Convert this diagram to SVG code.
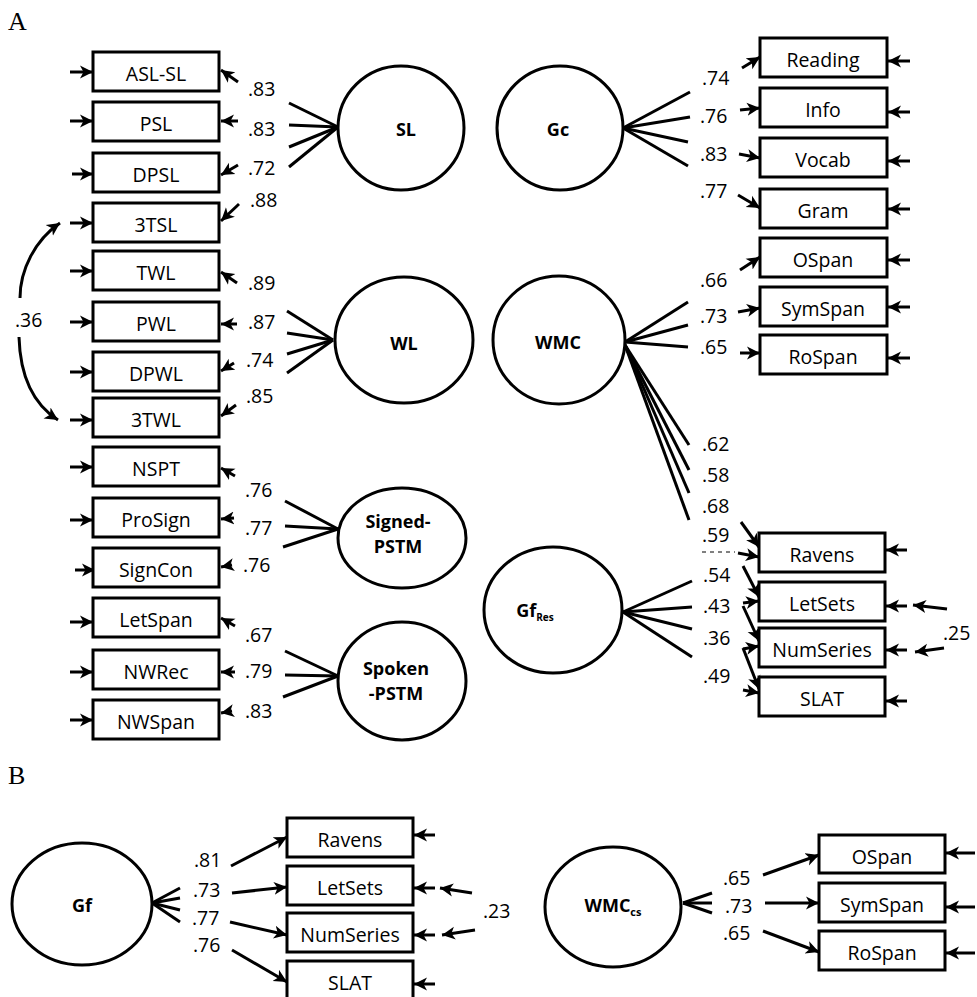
<svg xmlns="http://www.w3.org/2000/svg" width="977" height="997" viewBox="0 0 977 997">
<style>
.box{fill:#fff;stroke:#000;stroke-width:3}
.lat{fill:#fff;stroke:#000;stroke-width:3}
.ln{stroke:#000;stroke-width:3;fill:none}
.ar{stroke:#000;stroke-width:3;fill:none;marker-end:url(#ah)}
.t{font-family:"Open Sans",sans-serif;font-size:19.5px;text-anchor:middle;fill:#000}
.n{font-family:"Open Sans",sans-serif;font-size:19.5px;fill:#000}
.lt{font-family:"Open Sans",sans-serif;font-weight:bold;font-size:18px;text-anchor:middle;fill:#000}
.big{font-family:"Liberation Serif",serif;font-size:26px;fill:#000}
.dash{stroke:#000;stroke-width:1;stroke-dasharray:4 4}
</style>
<defs>
<marker id="ah" markerUnits="userSpaceOnUse" markerWidth="16" markerHeight="16" refX="13" refY="7" orient="auto"><path d="M0,0.5 L13,7 L0,13.5 L3.5,7 z" fill="#000"/></marker>
</defs>
<rect width="977" height="997" fill="#fff"/>
<text class="big" x="8" y="30">A</text>
<text class="big" x="8" y="784">B</text>

<g id="connectors">
<!-- left error arrows -->
<line class="ar" x1="70" y1="72" x2="93" y2="72"/>
<line class="ar" x1="70" y1="121" x2="93" y2="121"/>
<line class="ar" x1="72" y1="174" x2="93" y2="174"/>
<line class="ar" x1="70" y1="223" x2="93" y2="223"/>
<line class="ar" x1="70" y1="271" x2="93" y2="271"/>
<line class="ar" x1="70" y1="322" x2="93" y2="322"/>
<line class="ar" x1="70" y1="372" x2="93" y2="372"/>
<line class="ar" x1="70" y1="420" x2="93" y2="420"/>
<line class="ar" x1="70" y1="467" x2="93" y2="467"/>
<line class="ar" x1="70" y1="520" x2="93" y2="520"/>
<line class="ar" x1="75" y1="570" x2="95" y2="570"/>
<line class="ar" x1="70" y1="622" x2="93" y2="622"/>
<line class="ar" x1="70" y1="672" x2="93" y2="672"/>
<line class="ar" x1="70" y1="720" x2="93" y2="720"/>
<!-- correlation .36 -->
<path class="ar" d="M20 298 C20 270 35 240 60 223"/>
<path class="ar" d="M19 337 C20 372 30 402 58 420"/>
<!-- SL loadings -->
<line class="ln" x1="338" y1="127" x2="289" y2="103"/>
<line class="ln" x1="338" y1="127" x2="289" y2="125"/>
<line class="ln" x1="338" y1="127" x2="289" y2="147"/>
<line class="ln" x1="338" y1="127" x2="289" y2="167"/>
<line class="ar" x1="238" y1="82" x2="221" y2="70"/>
<line class="ar" x1="238" y1="121" x2="221" y2="121"/>
<line class="ar" x1="238" y1="165" x2="221" y2="175"/>
<line class="ar" x1="239" y1="204" x2="221" y2="221"/>
<!-- WL loadings -->
<line class="ln" x1="333" y1="340" x2="287" y2="311"/>
<line class="ln" x1="333" y1="340" x2="287" y2="333"/>
<line class="ln" x1="333" y1="340" x2="287" y2="354"/>
<line class="ln" x1="333" y1="340" x2="287" y2="373"/>
<line class="ar" x1="237" y1="283" x2="221" y2="272"/>
<line class="ar" x1="237" y1="324" x2="221" y2="324"/>
<line class="ar" x1="234" y1="363" x2="221" y2="371"/>
<line class="ar" x1="236" y1="405" x2="221" y2="416"/>
<!-- Signed-PSTM loadings -->
<line class="ln" x1="338" y1="529" x2="285" y2="501"/>
<line class="ln" x1="338" y1="529" x2="285" y2="526"/>
<line class="ln" x1="338" y1="529" x2="283" y2="547"/>
<line class="ar" x1="235" y1="476" x2="221" y2="468"/>
<line class="ar" x1="234" y1="518" x2="221" y2="519"/>
<line class="ar" x1="232" y1="565" x2="221" y2="567"/>
<!-- Spoken-PSTM loadings -->
<line class="ln" x1="338" y1="676" x2="285" y2="651"/>
<line class="ln" x1="338" y1="676" x2="285" y2="675"/>
<line class="ln" x1="338" y1="676" x2="283" y2="697"/>
<line class="ar" x1="235" y1="626" x2="221" y2="618"/>
<line class="ar" x1="235" y1="672" x2="221" y2="672"/>
<line class="ar" x1="232" y1="711" x2="221" y2="713"/>
<!-- Gc loadings -->
<line class="ln" x1="623" y1="128" x2="690" y2="92"/>
<line class="ln" x1="623" y1="128" x2="690" y2="117"/>
<line class="ln" x1="623" y1="128" x2="688" y2="142"/>
<line class="ln" x1="623" y1="128" x2="688" y2="166"/>
<line class="ar" x1="742" y1="68" x2="760" y2="57"/>
<line class="ar" x1="740" y1="110" x2="760" y2="108"/>
<line class="ar" x1="739" y1="154" x2="760" y2="158"/>
<line class="ar" x1="738" y1="195" x2="760" y2="208"/>
<!-- WMC loadings -->
<line class="ln" x1="625" y1="342" x2="688" y2="302"/>
<line class="ln" x1="625" y1="342" x2="688" y2="325"/>
<line class="ln" x1="625" y1="342" x2="688" y2="347"/>
<line class="ar" x1="740" y1="270" x2="760" y2="257"/>
<line class="ar" x1="738" y1="312" x2="760" y2="308"/>
<line class="ar" x1="740" y1="353" x2="760" y2="353"/>
<line class="ln" x1="625" y1="345" x2="689" y2="445"/>
<line class="ln" x1="625" y1="345" x2="689" y2="470"/>
<line class="ln" x1="625" y1="345" x2="689" y2="493"/>
<line class="ln" x1="625" y1="345" x2="689" y2="520"/>
<!-- GfRes loadings -->
<line class="ln" x1="623" y1="612" x2="692" y2="581"/>
<line class="ln" x1="623" y1="612" x2="692" y2="607"/>
<line class="ln" x1="623" y1="612" x2="692" y2="629"/>
<line class="ln" x1="623" y1="612" x2="692" y2="657"/>
<line class="dash" x1="702" y1="552" x2="735" y2="552"/>
<line class="ar" x1="741" y1="522" x2="759" y2="547"/>
<line class="ar" x1="738" y1="553" x2="759" y2="557"/>
<line class="ar" x1="743" y1="566" x2="759" y2="597"/>
<line class="ar" x1="743" y1="603" x2="759" y2="601"/>
<line class="ar" x1="743" y1="606" x2="759" y2="641"/>
<line class="ar" x1="743" y1="649" x2="759" y2="646"/>
<line class="ar" x1="743" y1="648" x2="759" y2="689"/>
<line class="ar" x1="743" y1="690" x2="759" y2="693"/>
<!-- right error arrows -->
<line class="ar" x1="910" y1="61" x2="888" y2="61"/>
<line class="ar" x1="910" y1="112" x2="888" y2="112"/>
<line class="ar" x1="910" y1="161" x2="888" y2="161"/>
<line class="ar" x1="910" y1="209" x2="888" y2="209"/>
<line class="ar" x1="910" y1="260" x2="888" y2="260"/>
<line class="ar" x1="910" y1="307" x2="888" y2="307"/>
<line class="ar" x1="910" y1="358" x2="888" y2="358"/>
<line class="ar" x1="907" y1="550" x2="886" y2="550"/>
<line class="ar" x1="907" y1="606" x2="886" y2="606"/>
<line class="ar" x1="907" y1="650" x2="886" y2="650"/>
<line class="ar" x1="907" y1="701" x2="886" y2="701"/>
<line class="ar" x1="947" y1="609" x2="913" y2="605"/>
<line class="ar" x1="944" y1="648" x2="915" y2="652"/>
<!-- B: Gf -->
<line class="ln" x1="152" y1="903" x2="180" y2="888"/>
<line class="ln" x1="152" y1="903" x2="180" y2="898"/>
<line class="ln" x1="152" y1="903" x2="180" y2="910"/>
<line class="ln" x1="152" y1="903" x2="180" y2="922"/>
<line class="ar" x1="231" y1="866" x2="287" y2="837"/>
<line class="ar" x1="232" y1="893" x2="287" y2="887"/>
<line class="ar" x1="230" y1="922" x2="287" y2="935"/>
<line class="ar" x1="232" y1="950" x2="287" y2="982"/>
<line class="ar" x1="435" y1="835" x2="414" y2="835"/>
<line class="ar" x1="435" y1="888" x2="414" y2="888"/>
<line class="ar" x1="435" y1="935" x2="414" y2="935"/>
<line class="ar" x1="435" y1="984" x2="414" y2="984"/>
<line class="ar" x1="472" y1="893" x2="440" y2="888"/>
<line class="ar" x1="475" y1="930" x2="442" y2="935"/>
<!-- B: WMCcs -->
<line class="ln" x1="683" y1="903" x2="712" y2="893"/>
<line class="ln" x1="683" y1="903" x2="712" y2="903"/>
<line class="ln" x1="683" y1="903" x2="712" y2="913"/>
<line class="ar" x1="763" y1="875" x2="819" y2="855"/>
<line class="ar" x1="765" y1="903" x2="819" y2="903"/>
<line class="ar" x1="763" y1="931" x2="819" y2="952"/>
<line class="ar" x1="975" y1="853" x2="946" y2="853"/>
<line class="ar" x1="975" y1="907" x2="946" y2="907"/>
<line class="ar" x1="975" y1="953" x2="946" y2="953"/>
</g>

<g id="loading-labels">
<text class="n" x="15" y="327">.36</text>
<text class="n" x="248" y="96">.83</text>
<text class="n" x="248" y="136">.83</text>
<text class="n" x="248" y="175">.72</text>
<text class="n" x="250" y="207">.88</text>
<text class="n" x="248" y="290">.89</text>
<text class="n" x="248" y="329">.87</text>
<text class="n" x="246" y="367">.74</text>
<text class="n" x="246" y="403">.85</text>
<text class="n" x="245" y="497">.76</text>
<text class="n" x="245" y="535">.77</text>
<text class="n" x="243" y="572">.76</text>
<text class="n" x="245" y="642">.67</text>
<text class="n" x="245" y="678">.79</text>
<text class="n" x="245" y="718">.83</text>
<text class="n" x="702" y="85">.74</text>
<text class="n" x="700" y="123">.76</text>
<text class="n" x="700" y="161">.83</text>
<text class="n" x="700" y="198">.77</text>
<text class="n" x="700" y="287">.66</text>
<text class="n" x="700" y="323">.73</text>
<text class="n" x="700" y="354">.65</text>
<text class="n" x="702" y="451">.62</text>
<text class="n" x="702" y="482">.58</text>
<text class="n" x="702" y="513">.68</text>
<text class="n" x="702" y="542">.59</text>
<text class="n" x="703" y="582">.54</text>
<text class="n" x="703" y="613">.43</text>
<text class="n" x="703" y="645">.36</text>
<text class="n" x="703" y="683">.49</text>
<text class="n" x="943" y="640">.25</text>
<text class="n" x="194" y="867">.81</text>
<text class="n" x="193" y="897">.73</text>
<text class="n" x="192" y="925">.77</text>
<text class="n" x="193" y="952">.76</text>
<text class="n" x="483" y="918">.23</text>
<text class="n" x="723" y="885">.65</text>
<text class="n" x="725" y="913">.73</text>
<text class="n" x="723" y="940">.65</text>
</g>

<!-- latent variables -->
<g id="SL"><ellipse class="lat" cx="401" cy="128" rx="63" ry="62"/><text class="lt" x="406" y="136">SL</text></g>
<g id="Gc"><ellipse class="lat" cx="560" cy="128" rx="63" ry="62"/><text class="lt" x="558" y="136">Gc</text></g>
<g id="WL"><ellipse class="lat" cx="404" cy="340" rx="69" ry="63"/><text class="lt" x="404" y="350">WL</text></g>
<g id="WMC"><ellipse class="lat" cx="559" cy="340" rx="66" ry="64"/><text class="lt" x="558" y="349">WMC</text></g>
<g id="SignedPSTM"><ellipse class="lat" cx="402" cy="538" rx="64" ry="50"/><text class="lt" x="398" y="528">Signed-</text><text class="lt" x="398" y="553">PSTM</text></g>
<g id="SpokenPSTM"><ellipse class="lat" cx="402" cy="681" rx="64" ry="59"/><text class="lt" x="396" y="675">Spoken</text><text class="lt" x="396" y="700">-PSTM</text></g>
<g id="GfRes"><ellipse class="lat" cx="553" cy="610" rx="69" ry="63"/><text class="lt" x="535" y="617">Gf<tspan font-size="10" dy="4">Res</tspan></text></g>
<g id="Gf"><ellipse class="lat" cx="82" cy="904" rx="70" ry="61"/><text class="lt" x="82" y="912" font-size="19">Gf</text></g>
<g id="WMCcs"><ellipse class="lat" cx="613" cy="907" rx="68" ry="60"/><text class="lt" x="613" y="912" font-size="19">WMC<tspan font-size="11" dy="4">cs</tspan></text></g>

<!-- left indicators -->
<g id="ASL-SL"><rect class="box" x="93" y="52" width="126" height="39"/><text class="t" x="156" y="81">ASL-SL</text></g>
<g id="PSL"><rect class="box" x="93" y="102" width="126" height="39"/><text class="t" x="156" y="131">PSL</text></g>
<g id="DPSL"><rect class="box" x="93" y="153" width="126" height="39"/><text class="t" x="156" y="182">DPSL</text></g>
<g id="3TSL"><rect class="box" x="93" y="203" width="126" height="39"/><text class="t" x="156" y="232">3TSL</text></g>
<g id="TWL"><rect class="box" x="93" y="251" width="126" height="39"/><text class="t" x="156" y="280">TWL</text></g>
<g id="PWL"><rect class="box" x="93" y="302" width="126" height="39"/><text class="t" x="156" y="331">PWL</text></g>
<g id="DPWL"><rect class="box" x="93" y="352" width="126" height="39"/><text class="t" x="156" y="381">DPWL</text></g>
<g id="3TWL"><rect class="box" x="93" y="398" width="126" height="39"/><text class="t" x="156" y="427">3TWL</text></g>
<g id="NSPT"><rect class="box" x="93" y="447" width="126" height="39"/><text class="t" x="156" y="476">NSPT</text></g>
<g id="ProSign"><rect class="box" x="93" y="498" width="126" height="39"/><text class="t" x="156" y="527">ProSign</text></g>
<g id="SignCon"><rect class="box" x="93" y="548" width="126" height="39"/><text class="t" x="156" y="577">SignCon</text></g>
<g id="LetSpan"><rect class="box" x="93" y="598" width="126" height="39"/><text class="t" x="156" y="627">LetSpan</text></g>
<g id="NWRec"><rect class="box" x="93" y="650" width="126" height="39"/><text class="t" x="156" y="679">NWRec</text></g>
<g id="NWSpan"><rect class="box" x="93" y="700" width="126" height="39"/><text class="t" x="156" y="729">NWSpan</text></g>

<!-- right indicators -->
<g id="Reading"><rect class="box" x="760" y="38" width="127" height="39"/><text class="t" x="823" y="67">Reading</text></g>
<g id="Info"><rect class="box" x="760" y="88" width="127" height="39"/><text class="t" x="823" y="117">Info</text></g>
<g id="Vocab"><rect class="box" x="760" y="138" width="127" height="39"/><text class="t" x="823" y="167">Vocab</text></g>
<g id="Gram"><rect class="box" x="760" y="189" width="127" height="39"/><text class="t" x="823" y="218">Gram</text></g>
<g id="OSpan"><rect class="box" x="760" y="238" width="127" height="39"/><text class="t" x="823" y="267">OSpan</text></g>
<g id="SymSpan"><rect class="box" x="760" y="287" width="127" height="39"/><text class="t" x="823" y="316">SymSpan</text></g>
<g id="RoSpan"><rect class="box" x="760" y="335" width="127" height="39"/><text class="t" x="823" y="364">RoSpan</text></g>
<g id="Ravens"><rect class="box" x="759" y="533" width="126" height="39"/><text class="t" x="822" y="562">Ravens</text></g>
<g id="LetSets"><rect class="box" x="759" y="582" width="126" height="39"/><text class="t" x="822" y="611">LetSets</text></g>
<g id="NumSeries"><rect class="box" x="759" y="628" width="126" height="39"/><text class="t" x="822" y="657">NumSeries</text></g>
<g id="SLAT"><rect class="box" x="759" y="677" width="126" height="39"/><text class="t" x="822" y="706">SLAT</text></g>

<!-- B indicators -->
<g id="B-Ravens"><rect class="box" x="287" y="818" width="126" height="39"/><text class="t" x="350" y="847">Ravens</text></g>
<g id="B-LetSets"><rect class="box" x="287" y="866" width="126" height="39"/><text class="t" x="350" y="895">LetSets</text></g>
<g id="B-NumSeries"><rect class="box" x="287" y="913" width="126" height="39"/><text class="t" x="350" y="942">NumSeries</text></g>
<g id="B-SLAT"><rect class="box" x="287" y="961" width="126" height="40"/><text class="t" x="350" y="990">SLAT</text></g>
<g id="B-OSpan"><rect class="box" x="819" y="835" width="126" height="38"/><text class="t" x="882" y="864">OSpan</text></g>
<g id="B-SymSpan"><rect class="box" x="819" y="883" width="126" height="39"/><text class="t" x="882" y="912">SymSpan</text></g>
<g id="B-RoSpan"><rect class="box" x="819" y="931" width="126" height="39"/><text class="t" x="882" y="960">RoSpan</text></g>
</svg>
